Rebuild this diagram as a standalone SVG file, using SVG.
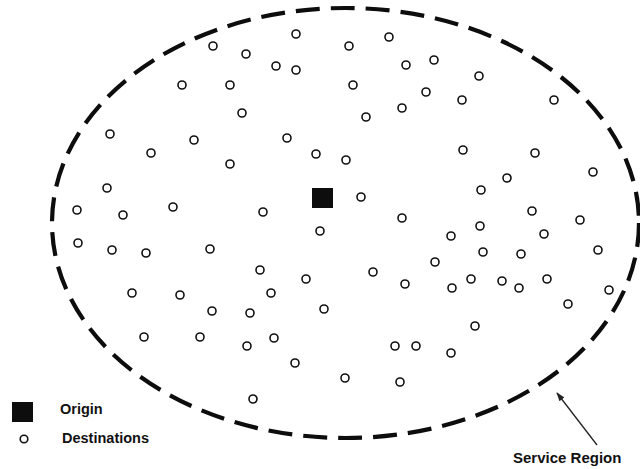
<svg xmlns="http://www.w3.org/2000/svg" width="640" height="469" viewBox="0 0 640 469">
  <style>
    .dest { fill: #fff; stroke: #111; stroke-width: 1.6; }
    .origin { fill: #0d0d0d; }
    .region { fill: none; stroke: #0d0d0d; stroke-width: 4.2; stroke-dasharray: 24 11; }
    .lbl { font-family: "Liberation Sans", Arial, sans-serif; font-weight: bold; fill: #111; }
    .pointer { stroke: #222; stroke-width: 1.3; fill: none; }
  </style>
  <defs>
    <marker id="head" viewBox="0 0 10 10" refX="9" refY="5" markerWidth="9" markerHeight="9" markerUnits="userSpaceOnUse" orient="auto">
      <path d="M0,1.5 L10,5 L0,8.5 Z" fill="#222"/>
    </marker>
  </defs>
  <rect width="640" height="469" fill="#fff"/>

  <!-- service region boundary -->
  <g id="service-region">
    <ellipse class="region" cx="345.5" cy="223" rx="293.5" ry="215"/>
  </g>

  <!-- depot -->
  <g id="origin">
    <rect class="origin" x="312" y="188" width="21" height="20"/>
  </g>

  <!-- customer locations -->
  <g id="destinations">
    <circle class="dest" cx="296" cy="34" r="4"/>
    <circle class="dest" cx="213" cy="46" r="4"/>
    <circle class="dest" cx="246" cy="54" r="4"/>
    <circle class="dest" cx="276" cy="66" r="4"/>
    <circle class="dest" cx="296" cy="70" r="4"/>
    <circle class="dest" cx="182" cy="85" r="4"/>
    <circle class="dest" cx="230" cy="85" r="4"/>
    <circle class="dest" cx="242" cy="113" r="4"/>
    <circle class="dest" cx="110" cy="134" r="4"/>
    <circle class="dest" cx="194" cy="140" r="4"/>
    <circle class="dest" cx="287" cy="138" r="4"/>
    <circle class="dest" cx="151" cy="153" r="4"/>
    <circle class="dest" cx="316" cy="154" r="4"/>
    <circle class="dest" cx="230" cy="164" r="4"/>
    <circle class="dest" cx="107" cy="188" r="4"/>
    <circle class="dest" cx="77" cy="210" r="4"/>
    <circle class="dest" cx="123" cy="215" r="4"/>
    <circle class="dest" cx="173" cy="207" r="4"/>
    <circle class="dest" cx="263" cy="212" r="4"/>
    <circle class="dest" cx="320" cy="231" r="4"/>
    <circle class="dest" cx="349" cy="46" r="4"/>
    <circle class="dest" cx="389" cy="37" r="4"/>
    <circle class="dest" cx="406" cy="65" r="4"/>
    <circle class="dest" cx="434" cy="60" r="4"/>
    <circle class="dest" cx="479" cy="76" r="4"/>
    <circle class="dest" cx="353" cy="85" r="4"/>
    <circle class="dest" cx="426" cy="92" r="4"/>
    <circle class="dest" cx="462" cy="100" r="4"/>
    <circle class="dest" cx="554" cy="100" r="4"/>
    <circle class="dest" cx="402" cy="108" r="4"/>
    <circle class="dest" cx="366" cy="117" r="4"/>
    <circle class="dest" cx="346" cy="160" r="4"/>
    <circle class="dest" cx="463" cy="150" r="4"/>
    <circle class="dest" cx="535" cy="153" r="4"/>
    <circle class="dest" cx="593" cy="172" r="4"/>
    <circle class="dest" cx="507" cy="178" r="4"/>
    <circle class="dest" cx="481" cy="190" r="4"/>
    <circle class="dest" cx="361" cy="197" r="4"/>
    <circle class="dest" cx="402" cy="218" r="4"/>
    <circle class="dest" cx="532" cy="211" r="4"/>
    <circle class="dest" cx="580" cy="220" r="4"/>
    <circle class="dest" cx="480" cy="226" r="4"/>
    <circle class="dest" cx="451" cy="236" r="4"/>
    <circle class="dest" cx="544" cy="234" r="4"/>
    <circle class="dest" cx="78" cy="243" r="4"/>
    <circle class="dest" cx="112" cy="250" r="4"/>
    <circle class="dest" cx="146" cy="253" r="4"/>
    <circle class="dest" cx="210" cy="249" r="4"/>
    <circle class="dest" cx="260" cy="270" r="4"/>
    <circle class="dest" cx="306" cy="279" r="4"/>
    <circle class="dest" cx="271" cy="293" r="4"/>
    <circle class="dest" cx="324" cy="309" r="4"/>
    <circle class="dest" cx="132" cy="293" r="4"/>
    <circle class="dest" cx="180" cy="295" r="4"/>
    <circle class="dest" cx="212" cy="311" r="4"/>
    <circle class="dest" cx="250" cy="313" r="4"/>
    <circle class="dest" cx="144" cy="337" r="4"/>
    <circle class="dest" cx="200" cy="337" r="4"/>
    <circle class="dest" cx="247" cy="346" r="4"/>
    <circle class="dest" cx="274" cy="338" r="4"/>
    <circle class="dest" cx="295" cy="363" r="4"/>
    <circle class="dest" cx="253" cy="399" r="4"/>
    <circle class="dest" cx="598" cy="250" r="4"/>
    <circle class="dest" cx="483" cy="252" r="4"/>
    <circle class="dest" cx="521" cy="254" r="4"/>
    <circle class="dest" cx="435" cy="262" r="4"/>
    <circle class="dest" cx="373" cy="272" r="4"/>
    <circle class="dest" cx="405" cy="284" r="4"/>
    <circle class="dest" cx="452" cy="288" r="4"/>
    <circle class="dest" cx="471" cy="279" r="4"/>
    <circle class="dest" cx="502" cy="281" r="4"/>
    <circle class="dest" cx="519" cy="288" r="4"/>
    <circle class="dest" cx="547" cy="279" r="4"/>
    <circle class="dest" cx="609" cy="290" r="4"/>
    <circle class="dest" cx="568" cy="304" r="4"/>
    <circle class="dest" cx="475" cy="326" r="4"/>
    <circle class="dest" cx="395" cy="346" r="4"/>
    <circle class="dest" cx="416" cy="346" r="4"/>
    <circle class="dest" cx="451" cy="353" r="4"/>
    <circle class="dest" cx="345" cy="378" r="4"/>
    <circle class="dest" cx="400" cy="382" r="4"/>
  </g>

  <!-- legend -->
  <g id="legend-origin">
    <rect class="origin" x="12" y="402" width="21" height="20"/>
    <text class="lbl" x="60" y="414" font-size="14.5">Origin</text>
  </g>
  <g id="legend-destinations">
    <circle class="dest" cx="24" cy="439" r="3.8"/>
    <text class="lbl" x="62" y="443" font-size="14.5">Destinations</text>
  </g>

  <!-- boundary callout -->
  <g id="region-label">
    <text class="lbl" x="513" y="463" font-size="15">Service Region</text>
  </g>
  <g id="connectors">
    <line class="pointer" x1="597" y1="445" x2="557" y2="393" marker-end="url(#head)"/>
  </g>
</svg>
